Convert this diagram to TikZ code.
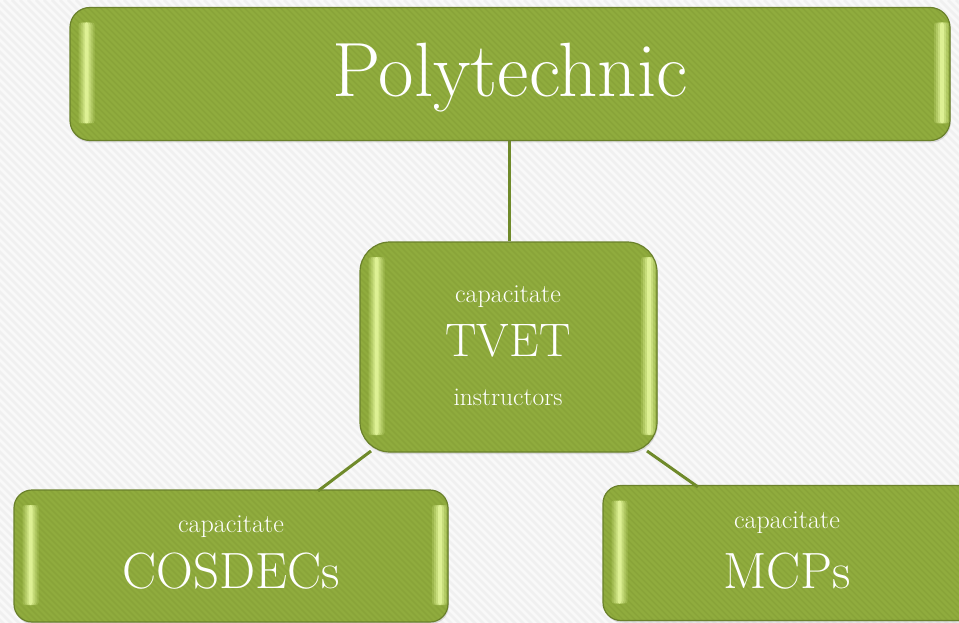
\documentclass[tikz,border=0pt]{standalone}
\usetikzlibrary{calc,shadows}
\definecolor{boxgreen}{HTML}{90AC3E}
\definecolor{stripegreen}{HTML}{7F9A33}
\definecolor{edgegreen}{HTML}{6A812B}
\definecolor{glow}{HTML}{EEFFA6}
\definecolor{linkgreen}{HTML}{6F8A2A}
\definecolor{paper}{HTML}{F9F9F9}
\definecolor{paperstripe}{HTML}{F0F0F0}
% a soft vertical bevel highlight: #1 = centre x offset, from corner (#2) to corner (#3)
\tikzset{
  glowbar/.style={glow, rounded corners=2.5pt},
  gbox/.style={draw=edgegreen, line width=1.2pt, fill=boxgreen,
    rounded corners=#1, inner sep=0pt,
    drop shadow={opacity=0.25, shadow xshift=0.8pt, shadow yshift=-2pt},
    path picture={
      \coordinate (nw) at (path picture bounding box.north west);
      \coordinate (se) at (path picture bounding box.south east);
      \foreach \k in {-300,-294,...,1000}
        \draw[stripegreen, line width=1.6pt, opacity=0.4]
          ($(nw)+(\k pt,0pt)$) -- ++(320pt,-320pt);
      % bevel glow along the left side
      \foreach \w/\o in {8/0.18, 6/0.25, 4/0.35, 2/0.6}
        \fill[glowbar, opacity=\o]
          ($(nw)+(16.5pt-\w pt,-15pt)$) rectangle ($(nw|-se)+(16.5pt+\w pt,17pt)$);
      % bevel glow along the right side
      \foreach \w/\o in {8/0.18, 6/0.25, 4/0.35, 2/0.6}
        \fill[glowbar, opacity=\o]
          ($(se|-nw)+(-8pt-\w pt,-15pt)$) rectangle ($(se)+(-8pt+\w pt,17pt)$);
    }},
  link/.style={draw=linkgreen, line width=3pt},
  small/.style={text=white, anchor=base, font=\fontsize{26}{30}\selectfont},
  big/.style={text=white, anchor=base, font=\fontsize{51}{58}\selectfont},
}
\begin{document}
\begin{tikzpicture}[x=1pt, y=-1pt]
  % page and its faint diagonal texture
  \fill[paper] (0,0) rectangle (959,623);
  \begin{scope}
    \clip (0,0) rectangle (959,623);
    \foreach \k in {-700,-692,...,960}
      \draw[paperstripe, line width=2.5pt] (\k,0) -- ++(700,700);
  \end{scope}
  \useasboundingbox (0,0) rectangle (959,623);

  % connector end points
  \coordinate (c1) at (509,141);
  \coordinate (c2) at (509,243);
  \coordinate (l1) at (371,451);
  \coordinate (l2) at (318,491);
  \coordinate (r1) at (647,451);
  \coordinate (r2) at (698,487);

  % boxes
  \node[gbox=20pt, minimum width=880pt, minimum height=133pt] (poly) at (510,74) {};
  \node[gbox=30pt, minimum width=297pt, minimum height=210pt] (tvet) at (508.5,347) {};
  \node[gbox=18pt, minimum width=434pt, minimum height=132pt] (cos) at (231,556) {};
  \node[gbox=18pt, minimum width=400pt, minimum height=135pt] (mcp) at (803,553) {};

  \draw[link] (poly.south -| c1) -- (tvet.north -| c2);
  \draw[link] (l1) -- (l2);
  \draw[link] (r1) -- (r2);

  % labels
  \node[text=white, anchor=base, font=\fontsize{77}{86}\selectfont] (tpoly) at (510,97) {Polytechnic};
  \node[small] (t1) at (508,302) {capacitate};
  \node[big, font=\fontsize{47}{54}\selectfont] (t2) at (508,356) {TVET};
  \node[small, font=\fontsize{25.5}{30}\selectfont] (t3) at (508,405) {instructors};
  \node[small] (t4) at (231,532) {capacitate};
  \node[big] (t5) at (231,588) {COSDECs};
  \node[small] (t6) at (787,528) {capacitate};
  \node[big] (t7) at (787,588) {MCPs};
\end{tikzpicture}
\end{document}
